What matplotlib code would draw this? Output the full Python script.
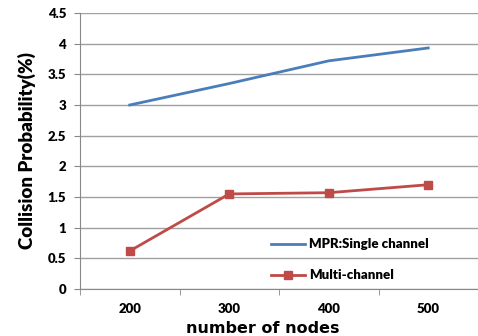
import matplotlib.pyplot as plt
import numpy as np

nodes = ["200", "300", "400", "500"]
single = [3.0, 3.35, 3.72, 3.93]
multi = [0.62, 1.55, 1.57, 1.70]
yticks = [0, 0.5, 1, 1.5, 2, 2.5, 3, 3.5, 4, 4.5]
ytick_labels = ["0", "0.5", "1", "1.5", "2", "2.5", "3", "3.5", "4", "4.5"]

plt.rcParams['font.family'] = ['Lato', 'DejaVu Sans']

fig = plt.figure(figsize=(4.78, 3.36), dpi=100)
ax = fig.add_axes([80/478, 1 - 289/336, 398/478, 276/336])

x = np.arange(len(nodes))
ax.plot(x, single, color='#4a7ebb', linewidth=2, label='MPR:Single channel')
ax.plot(x, multi, color='#be4b48', linewidth=2, marker='s', markersize=6,
        label='Multi-channel')

ax.set_xlim(-0.5, 3.5)
ax.set_ylim(0, 4.5)
ax.set_yticks(yticks)
ax.set_yticklabels(ytick_labels, fontweight='heavy', fontsize=9.5)
ax.set_xticks(x)
ax.set_xticklabels(nodes, fontweight='heavy', fontsize=9.5)
ax.set_xticks(np.arange(-0.5, 4, 1), minor=True)
ax.tick_params(axis='x', which='major', length=0, pad=10)
ax.tick_params(axis='x', which='minor', length=4, color='#888888')
ax.tick_params(axis='y', length=4, color='#888888', pad=6)
ax.grid(axis='y', color='#a0a0a0', linewidth=1)
ax.set_axisbelow(True)
for s in ['top', 'right']:
    ax.spines[s].set_visible(False)
for s in ['left', 'bottom']:
    ax.spines[s].set_color('#888888')

ax.set_ylabel('Collision Probability(%)', fontweight='heavy', fontsize=13.5)
ax.yaxis.set_label_coords(-0.11, 0.5)
ax.set_xlabel('number of nodes', fontweight='bold', fontsize=11.5,
              family='DejaVu Sans')
ax.xaxis.set_label_coords(0.46, -0.115)

ax.legend(loc='lower left', bbox_to_anchor=(0.45, -0.015), frameon=False,
          prop={'weight': 'heavy', 'size': 9.5},
          labelspacing=1.45, handlelength=2.6, handletextpad=0.3)

fig.savefig('out.png', dpi=100)
